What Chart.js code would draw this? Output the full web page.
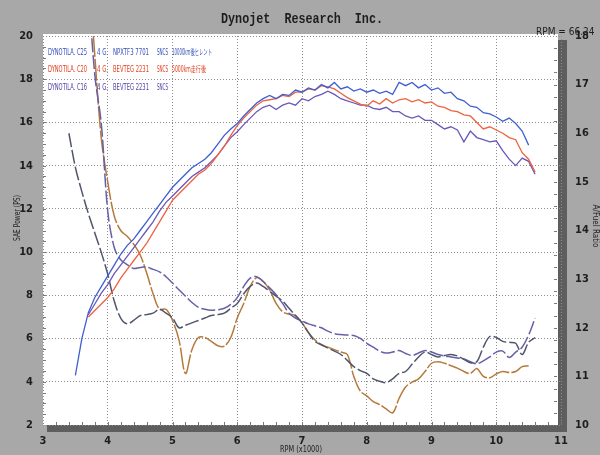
<!DOCTYPE html>
<html>
<head>
<meta charset="utf-8">
<script src="https://cdn.jsdelivr.net/npm/chart.js@4.4.1/dist/chart.umd.min.js"></script>
<style>
  html, body { margin: 0; padding: 0; background: #a8a8a8; }
  #wrap { width: 600px; height: 455px; }
</style>
</head>
<body>
<div id="wrap"><canvas id="myChart" width="600" height="455"></canvas></div>
<script>
// rpm x1000
const rpm = [3.4, 3.5, 3.6, 3.7, 3.8, 3.9,
  4.0, 4.1, 4.2, 4.3, 4.4, 4.5, 4.6, 4.7, 4.8, 4.9,
  5.0, 5.1, 5.2, 5.3, 5.4, 5.5, 5.6, 5.7, 5.8, 5.9,
  6.0, 6.1, 6.2, 6.3, 6.4, 6.5, 6.6, 6.7, 6.8, 6.9,
  7.0, 7.1, 7.2, 7.3, 7.4, 7.5, 7.6, 7.7, 7.8, 7.9,
  8.0, 8.1, 8.2, 8.3, 8.4, 8.5, 8.6, 8.7, 8.8, 8.9,
  9.0, 9.1, 9.2, 9.3, 9.4, 9.5, 9.6, 9.7, 9.8, 9.9,
  10.0, 10.1, 10.2, 10.3, 10.4, 10.5, 10.6];

// SAE Power (PS)
const powerC25 = [null, 4.3, 6.0, 7.2, 7.9, 8.4,
  8.9, 9.4, 9.9, 10.3, 10.6, 11.0, 11.4, 11.8, 12.2, 12.6,
  13.0, 13.3, 13.6, 13.9, 14.1, 14.3, 14.6, 15.0, 15.4, 15.7,
  15.95, 16.3, 16.6, 16.9, 17.1, 17.25, 17.1, 17.3, 17.25, 17.5,
  17.4, 17.6, 17.5, 17.75, 17.6, 17.85, 17.55, 17.65, 17.45, 17.55,
  17.4, 17.5, 17.35, 17.45, 17.3, 17.85, 17.7, 17.85, 17.6, 17.75,
  17.5, 17.6, 17.35, 17.4, 17.1, 17.0, 16.75, 16.7, 16.45, 16.4,
  16.25, 16.05, 16.2, 15.95, 15.6, 14.95, null];
const powerC20 = [null, null, null, 7.0, 7.3, 7.6,
  7.9, 8.3, 8.8, 9.2, 9.6, 10.0, 10.4, 10.9, 11.4, 11.9,
  12.4, 12.7, 13.0, 13.3, 13.6, 13.8, 14.1, 14.5, 14.9, 15.4,
  15.85, 16.2, 16.5, 16.8, 17.0, 17.05, 17.1, 17.25, 17.2, 17.4,
  17.4, 17.55, 17.5, 17.7, 17.65, 17.55, 17.35, 17.15, 17.0, 16.85,
  16.75, 17.0, 16.85, 17.1, 16.9, 17.05, 17.1, 16.95, 17.05, 16.9,
  16.95, 16.75, 16.7, 16.55, 16.5, 16.35, 16.3, 16.0, 15.7, 15.8,
  15.65, 15.5, 15.3, 15.2, 14.6, 14.3, 13.7];
const powerC16 = [null, null, null, 7.1, 7.6, 8.1,
  8.5, 9.0, 9.4, 9.8, 10.2, 10.6, 11.0, 11.4, 11.9, 12.3,
  12.6, 12.9, 13.2, 13.5, 13.7, 13.9, 14.2, 14.5, 14.9, 15.3,
  15.57, 15.9, 16.2, 16.5, 16.7, 16.8, 16.6, 16.8, 16.9, 16.8,
  17.1, 17.0, 17.2, 17.3, 17.45, 17.3, 17.1, 17.0, 16.9, 16.8,
  16.8, 16.65, 16.6, 16.7, 16.5, 16.5, 16.3, 16.2, 16.3, 16.1,
  16.1, 15.9, 15.7, 15.8, 15.65, 15.1, 15.6, 15.3, 15.2, 15.1,
  15.15, 14.7, 14.3, 14.0, 14.35, 14.2, 13.6];

// A/F ratio
const afC25 = [16.0, 15.3, 14.8, 14.35, 13.95, 13.55,
  13.1, 12.55, 12.2, 12.08, 12.15, 12.25, 12.27, 12.3, 12.38, 12.3,
  12.2, 12.0, 12.05, 12.1, 12.15, 12.2, 12.25, 12.27, 12.3, 12.4,
  12.5, 12.7, 12.85, 12.92, 12.85, 12.75, 12.65, 12.55, 12.4, 12.25,
  12.1, 11.9, 11.72, 11.65, 11.58, 11.52, 11.45, 11.33, 11.2, 11.12,
  11.06, 10.95, 10.9, 10.87, 10.95, 11.06, 11.1, 11.25, 11.4, 11.5,
  11.45, 11.4, 11.43, 11.45, 11.42, 11.35, 11.28, 11.3, 11.6, 11.82,
  11.8, 11.72, 11.7, 11.68, 11.45, 11.7, 11.8];
const afC16 = [null, null, null, 19.0, 17.2, 16.2,
  14.4, 13.65, 13.4, 13.3, 13.22, 13.24, 13.25, 13.2, 13.15, 13.05,
  12.92, 12.78, 12.65, 12.52, 12.42, 12.38, 12.36, 12.37, 12.4, 12.48,
  12.62, 12.85, 13.02, 13.05, 12.95, 12.82, 12.68, 12.5, 12.3, 12.2,
  12.14, 12.08, 12.04, 12.0, 11.93, 11.88, 11.86, 11.85, 11.84, 11.78,
  11.68, 11.6, 11.52, 11.48, 11.5, 11.53, 11.47, 11.43, 11.48, 11.53,
  11.5, 11.45, 11.42, 11.4, 11.38, 11.36, 11.3, 11.26, 11.32, 11.4,
  11.5, 11.52, 11.39, 11.5, 11.6, 11.85, 12.2];
const afC20 = [null, null, null, 19.5, 17.6, 15.9,
  15.0, 14.3, 14.0, 13.88, 13.72, 13.5, 13.13, 12.7, 12.38, 12.38,
  12.15, 11.75, 11.06, 11.55, 11.8, 11.8, 11.72, 11.63, 11.62, 11.8,
  12.2, 12.5, 12.85, 13.03, 12.95, 12.78, 12.5, 12.33, 12.28, 12.25,
  12.1, 11.9, 11.75, 11.65, 11.6, 11.55, 11.5, 11.45, 11.0, 10.7,
  10.6, 10.48, 10.42, 10.33, 10.25, 10.55, 10.78, 10.88, 10.95, 11.1,
  11.27, 11.3, 11.27, 11.22, 11.17, 11.1, 11.06, 11.16, 11.0, 10.97,
  11.05, 11.1, 11.08, 11.1, 11.2, 11.22, null];

const xTicks = [3, 4, 5, 6, 7, 8, 9, 10, 11];
const powerTicks = [2, 4, 6, 8, 10, 12, 14, 16, 18, 20];
const afTicks = [10, 11, 12, 13, 14, 15, 16, 17, 18];

const legendRows = [
  { color: "#3550b8", cols: ["DYNOTILA. C25", "4 G.", "NPXTF3 7701", "SNCS", "10000km後ヒレント"] },
  { color: "#e2401e", cols: ["DYNOTILA. C20", "4 G.", "BEVTEG 2231", "SNCS", "5000km走行後"] },
  { color: "#4b3fa2", cols: ["DYNOTILA. C16", "4 G.", "BEVTEG 2231", "SNCS", ""] }
];

const narrow = '"Liberation Sans Narrow", "DejaVu Sans Condensed", "Noto Sans CJK JP", sans-serif';

function puntos(arr) {
  return rpm.map((r, i) => ({ x: r, y: arr[i] }));
}

const fondo = {
  id: "fondo",
  beforeDraw(chart) {
    const { ctx, chartArea: a } = chart;
    ctx.save();
    ctx.fillStyle = "#a8a8a8";
    ctx.fillRect(0, 0, chart.width, chart.height);
    ctx.fillStyle = "#5e5e5e";
    ctx.fillRect(a.left + 4, a.top + 4, a.right - a.left + 2, a.bottom - a.top + 3);
    ctx.fillStyle = "#ffffff";
    ctx.fillRect(a.left, a.top - 2, a.right - a.left - 3, a.bottom - a.top + 2);
    ctx.restore();
  },
  afterDraw(chart) {
    const { ctx, chartArea: a } = chart;
    const sx = chart.scales.x, sy = chart.scales.y, sy2 = chart.scales.y2;
    ctx.save();
    // minor ticks
    ctx.strokeStyle = "#7a7a7a";
    ctx.lineWidth = 1;
    ctx.beginPath();
    for (let v = 2.5; v < 20; v += 0.5) {
      const y = Math.round(sy.getPixelForValue(v)) + 0.5;
      ctx.moveTo(a.left, y); ctx.lineTo(a.left + 3, y);
    }
    for (let v = 3.2; v < 11; v += 0.2) {
      const x = Math.round(sx.getPixelForValue(v)) + 0.5;
      ctx.moveTo(x, a.bottom); ctx.lineTo(x, a.bottom - 3);
    }
    for (let v = 10.25; v < 18; v += 0.25) {
      const y = Math.round(sy2.getPixelForValue(v)) + 0.5;
      ctx.moveTo(a.right - 4, y); ctx.lineTo(a.right - 7, y);
    }
    ctx.stroke();

    ctx.fillStyle = "#1e1e1e";
    ctx.textBaseline = "middle";
    ctx.textAlign = "center";
    ctx.font = 'bold 15px "Liberation Mono", "DejaVu Sans Mono", monospace';
    ctx.fillText("Dynojet  Research  Inc.", 302, 19, 162);

    ctx.font = "10px " + narrow;
    ctx.textAlign = "left";
    ctx.fillText("RPM = 66.24", 536, 32, 60);

    ctx.font = "8px " + narrow;
    ctx.textAlign = "center";
    ctx.fillText("RPM (x1000)", 301, 450, 42);

    ctx.save();
    ctx.translate(18, 218);
    ctx.rotate(-Math.PI / 2);
    ctx.fillText("SAE Power (PS)", 0, 0, 46);
    ctx.restore();

    ctx.save();
    ctx.translate(595, 226);
    ctx.rotate(Math.PI / 2);
    ctx.fillText("A/Fuel Ratio", 0, 0, 60);
    ctx.restore();

    // header texts of the runs
    const colX = [48, 97, 113, 157, 172];
    const colW = [39, 11, 36, 11, 40];
    const rowY = [53, 70, 88];
    ctx.textAlign = "left";
    ctx.font = "8px " + narrow;
    legendRows.forEach((row, r) => {
      ctx.fillStyle = row.color;
      row.cols.forEach((t, c) => {
        if (t) ctx.fillText(t, colX[c], rowY[r], c === 4 && r === 1 ? 34 : colW[c]);
      });
    });
    ctx.restore();
  }
};

const rejilla = {
  color: "#8d8d8d",
  lineWidth: 1,
  drawTicks: false
};

const ctx = document.getElementById("myChart").getContext("2d");
const myChart = new Chart(ctx, {
  type: "line",
  data: {
    datasets: [
      { label: "C25 PS", data: puntos(powerC25), yAxisID: "y", borderColor: "#3f5fd0", borderWidth: 1.3, tension: 0 },
      { label: "C20 PS", data: puntos(powerC20), yAxisID: "y", borderColor: "#ee6240", borderWidth: 1.3, tension: 0 },
      { label: "C16 PS", data: puntos(powerC16), yAxisID: "y", borderColor: "#6a58b8", borderWidth: 1.3, tension: 0 },
      { label: "C25 AF", data: puntos(afC25), yAxisID: "y2", borderColor: "#50566c", borderWidth: 1.5, borderDash: [14, 3], tension: 0.35 },
      { label: "C16 AF", data: puntos(afC16), yAxisID: "y2", borderColor: "#6660a8", borderWidth: 1.5, borderDash: [14, 3], tension: 0.35 },
      { label: "C20 AF", data: puntos(afC20), yAxisID: "y2", borderColor: "#b57a3c", borderWidth: 1.5, borderDash: [22, 2], tension: 0.35 }
    ]
  },
  options: {
    responsive: false,
    animation: false,
    events: [],
    elements: { point: { radius: 0 } },
    layout: { padding: { top: 36, left: 0, right: 0, bottom: 0 } },
    plugins: { legend: { display: false }, tooltip: { enabled: false } },
    scales: {
      x: {
        type: "linear", min: 3, max: 11,
        afterBuildTicks: s => { s.ticks = xTicks.map(v => ({ value: v })); },
        afterFit: s => { s.height = 30; },
        grid: rejilla,
        border: { display: false, dash: [1, 2] },
        ticks: { padding: 10, color: "#1e1e1e", font: { family: narrow, size: 11, weight: "bold" } }
      },
      y: {
        position: "left", min: 2, max: 20,
        afterBuildTicks: s => { s.ticks = powerTicks.map(v => ({ value: v })); },
        afterFit: s => { s.width = 43; },
        grid: rejilla,
        border: { display: false, dash: [1, 2] },
        ticks: { padding: 10, color: "#1e1e1e", font: { family: narrow, size: 11, weight: "bold" } }
      },
      y2: {
        position: "right", min: 10, max: 18,
        afterBuildTicks: s => { s.ticks = afTicks.map(v => ({ value: v })); },
        afterFit: s => { s.width = 39; },
        grid: { drawOnChartArea: false, drawTicks: false },
        border: { display: false },
        ticks: { padding: 14, color: "#1e1e1e", font: { family: narrow, size: 11, weight: "bold" } }
      }
    }
  },
  plugins: [fondo]
});
</script>
</body>
</html>
